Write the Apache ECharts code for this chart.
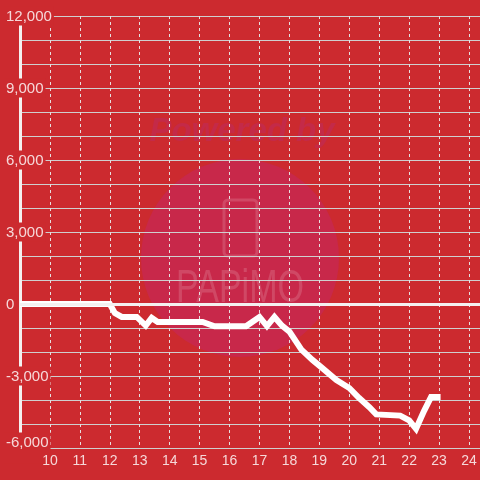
<!DOCTYPE html>
<html>
<head>
<meta charset="utf-8">
<script src="https://cdn.jsdelivr.net/npm/echarts@6/dist/echarts.min.js"></script>
<style>
html,body{margin:0;padding:0;background:#cc2a2f;}
#chart{width:480px;height:480px;}
</style>
</head>
<body>
<div id="chart"></div>
<script>
// Data (hour of day, cumulative value)
const hours = [9, 12, 12.17, 12.4, 12.9, 13.2, 13.4, 13.6, 15.1, 15.5, 16.55, 17.0, 17.25, 17.5, 17.75, 18.0, 18.4, 18.77, 19.1, 19.57, 20.0, 20.33, 20.67, 20.9, 21.7, 22.0, 22.23, 22.5, 22.73, 23.05];
const values = [0, 0, -380, -540, -540, -900, -580, -750, -750, -930, -930, -540, -920, -540, -900, -1150, -1900, -2330, -2670, -3170, -3500, -3920, -4300, -4600, -4650, -4850, -5200, -4450, -3880, -3880];
const xTickLabels = ['10','11','12','13','14','15','16','17','18','19','20','21','22','23','24'];
const yTickLabels = ['-6,000','-3,000','0','3,000','6,000','9,000','12,000'];
const watermarkTop = 'Powered by';
const watermarkBrand = 'PAPiMO';

const seriesData = hours.map((h, i) => [h, values[i]]);
const BG = '#cc2a2f';
const LABEL = 'rgba(255,255,255,0.82)';
const FONT = '"Liberation Sans", Arial, sans-serif';

const chart = echarts.init(document.getElementById('chart'), null, {renderer: 'canvas'});
chart.setOption({
  backgroundColor: BG,
  animation: false,
  grid: {left: 20, right: -1, top: 16, bottom: 32, containLabel: false},
  graphic: [
    {type: 'circle', z: -5, shape: {cx: 240, cy: 258, r: 99}, style: {fill: '#c8284a'}},
    {type: 'text', z: -5, x: 242, y: 132, style: {text: watermarkTop, fill: '#c42a48', font: 'italic bold 33px ' + FONT, align: 'center', verticalAlign: 'middle'}},
    {type: 'rect', z: -5, shape: {x: 224, y: 200, width: 33, height: 56, r: 4}, style: {fill: 'none', stroke: 'rgba(255,255,255,0.15)', lineWidth: 3}},
    {type: 'text', z: -5, x: 240, y: 289, scaleX: 0.74, style: {text: watermarkBrand, fill: 'rgba(255,255,255,0.15)', font: '46px ' + FONT, align: 'center', verticalAlign: 'middle'}}
  ],
  xAxis: {
    type: 'value',
    min: 9,
    max: 9 + 461 / 30,
    interval: 1,
    axisLine: {show: false},
    axisTick: {show: false},
    axisLabel: {
      showMinLabel: false,
      showMaxLabel: false,
      color: LABEL,
      fontSize: 14,
      fontFamily: FONT,
      margin: 6,
      formatter: v => {
        const idx = Math.round(v) - 10;
        return (Math.abs(v - Math.round(v)) < 1e-6 && idx >= 0 && idx < xTickLabels.length) ? xTickLabels[idx] : '';
      }
    },
    splitLine: {show: true, lineStyle: {color: '#e6e0e0', width: 1, type: [3, 3]}}
  },
  yAxis: {
    type: 'value',
    min: -6000,
    max: 12000,
    interval: 3000,
    axisLine: {show: true, lineStyle: {color: '#f4f0f0', width: 3}},
    axisTick: {show: false},
    minorTick: {show: false, splitNumber: 3},
    minorSplitLine: {show: true, lineStyle: {color: '#cfcfcf', width: 1}},
    splitLine: {show: true, lineStyle: {color: '#cfcfcf', width: 1}},
    axisLabel: {
      inside: false,
      align: 'left',
      margin: 16,
      color: LABEL,
      fontSize: 15,
      fontFamily: FONT,
      formatter: v => {
        const idx = Math.round((v + 6000) / 3000);
        const t = yTickLabels[idx];
        if (v === -6000) return '{b|' + t + '}';
        return '{a|' + t + '}';
      },
      padding: 0,
      rich: {
        a: {backgroundColor: BG, padding: [3, 2, 1, 2], color: LABEL, fontSize: 15, lineHeight: 15, fontFamily: FONT},
        b: {backgroundColor: BG, padding: [3, 2, 13, 2], color: LABEL, fontSize: 15, lineHeight: 15, fontFamily: FONT}
      }
    }
  },
  series: [{
    type: 'line',
    data: seriesData,
    showSymbol: false,
    symbol: 'none',
    lineStyle: {color: '#ffffff', width: 6, cap: 'butt', join: 'miter'},
    itemStyle: {color: '#ffffff'},
    markLine: {
      silent: true,
      symbol: 'none',
      label: {show: false},
      lineStyle: {color: '#f4f0f0', width: 3, type: 'solid'},
      data: [{yAxis: 0}],
      animation: false
    },
    z: 3
  }]
});
</script>
</body>
</html>
